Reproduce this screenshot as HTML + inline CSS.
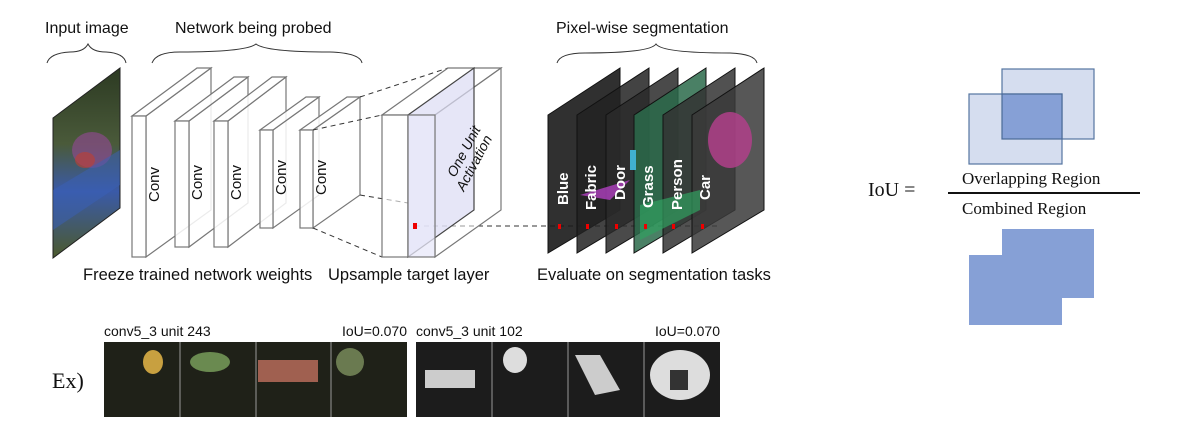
<!DOCTYPE html>
<html><head><meta charset="utf-8"><style>
html,body{margin:0;padding:0;background:#fff;}
svg{display:block;}
.s{font-family:"Liberation Sans",sans-serif;}
.r{font-family:"Liberation Serif",serif;}
</style></head><body>
<svg width="1185" height="438" viewBox="0 0 1185 438" xmlns="http://www.w3.org/2000/svg">
<defs>
<linearGradient id="img" x1="0" y1="0" x2="0" y2="1">
<stop offset="0" stop-color="#2c3a22"/><stop offset="0.4" stop-color="#4a5a3a"/><stop offset="0.65" stop-color="#3a5aa8"/><stop offset="1" stop-color="#4c5a2c"/></linearGradient>
</defs>
<g class="s" font-size="16" fill="#111">
<text x="45" y="33">Input image</text>
<text x="175" y="33">Network being probed</text>
<text x="556" y="33">Pixel-wise segmentation</text>
</g>
<g class="s" font-size="16.5" fill="#111">
<text x="83" y="280">Freeze trained network weights</text>
<text x="328" y="280">Upsample target layer</text>
<text x="537" y="280">Evaluate on segmentation tasks</text>
</g>
<g fill="none" stroke="#333" stroke-width="1">
<path d="M47 63 Q50 53 70 52 Q84 52 88 44 Q92 52 106 52 Q124 53 126 63"/>
<path d="M152 63 Q156 52 180 52 Q246 52 256 44 Q266 52 330 52 Q360 53 362 63"/>
<path d="M557 63 Q560 53 585 53 Q650 53 656 44 Q662 53 730 53 Q755 54 757 63"/>
</g>
<polygon points="53,118 120,68 120,208 53,258" fill="url(#img)" stroke="#222"/>
<ellipse cx="92" cy="150" rx="20" ry="18" fill="#8a4a8a" opacity="0.7"/>
<ellipse cx="85" cy="160" rx="10" ry="8" fill="#c04030" opacity="0.6"/>
<polygon points="53,190 120,150 120,185 53,230" fill="#3a60b8" opacity="0.5"/>
<g fill="#fff" fill-opacity="0.85" stroke="#777" stroke-width="1.2">
<g><polygon points="146,116 211,68 211,210 146,257"/><polygon points="132,116 197,68 211,68 146,116"/><rect x="132" y="116" width="14" height="141"/></g>
<g><polygon points="189,121 248,77 248,203 189,247"/><polygon points="175,121 234,77 248,77 189,121"/><rect x="175" y="121" width="14" height="126"/></g>
<g><polygon points="228,121 286,77 286,203 228,247"/><polygon points="214,121 272,77 286,77 228,121"/><rect x="214" y="121" width="14" height="126"/></g>
<g><polygon points="273,130 319,97 319,195 273,228"/><polygon points="260,130 306,97 319,97 273,130"/><rect x="260" y="130" width="13" height="98"/></g>
<g><polygon points="313,130 360,97 360,195 313,228"/><polygon points="300,130 347,97 360,97 313,130"/><rect x="300" y="130" width="13" height="98"/></g>
</g>
<g class="s" font-size="15" fill="#111">
<text transform="translate(159,202) rotate(-90)">Conv</text>
<text transform="translate(202,200) rotate(-90)">Conv</text>
<text transform="translate(241,200) rotate(-90)">Conv</text>
<text transform="translate(286,195) rotate(-90)">Conv</text>
<text transform="translate(326,195) rotate(-90)">Conv</text>
</g>
<g stroke="#333" stroke-dasharray="5,4" fill="none">
<line x1="360" y1="97" x2="448" y2="68"/>
<line x1="313" y1="130" x2="382" y2="115"/>
<line x1="360" y1="195" x2="408" y2="203"/>
<line x1="313" y1="228" x2="382" y2="257"/>
<line x1="415" y1="226" x2="720" y2="226"/>
</g>
<g stroke="#777" stroke-width="1.2">
<polygon points="382,115 448,68 501,68 435,115" fill="#fff" fill-opacity="0.6"/>
<polygon points="435,115 501,68 501,210 435,257" fill="#fff" fill-opacity="0.5"/>
<rect x="382" y="115" width="26" height="142" fill="#fff" fill-opacity="0.6"/>
<polygon points="408,115 474,68 474,210 408,257" fill="#dcdcf4" fill-opacity="0.7" stroke="#444"/>
<rect x="408" y="115" width="27" height="142" fill="#e8e8fa" fill-opacity="0.75"/>
</g>
<text class="s" font-size="14" font-style="italic" fill="#111" transform="translate(455,178) rotate(-62)">One Unit</text>
<text class="s" font-size="14" font-style="italic" fill="#111" transform="translate(464,192) rotate(-62)">Activation</text>
<rect x="413" y="223" width="4" height="6" fill="#e00"/>
<g stroke="#111" stroke-width="1">
<polygon points="548,115 620,68 620,210 548,253" fill="#1a1a1a" fill-opacity="0.9"/>
<polygon points="577,115 649,68 649,210 577,253" fill="#222" fill-opacity="0.85"/>
<polygon points="606,115 678,68 678,210 606,253" fill="#2a2a2a" fill-opacity="0.85"/>
<polygon points="634,115 706,68 706,210 634,253" fill="#2a6a4a" fill-opacity="0.85"/>
<polygon points="663,115 735,68 735,210 663,253" fill="#333" fill-opacity="0.85"/>
<polygon points="692,115 764,68 764,210 692,253" fill="#3a3a3a" fill-opacity="0.85"/>
</g>
<ellipse cx="730" cy="140" rx="22" ry="28" fill="#b0408a" opacity="0.85"/>
<polygon points="580,195 630,180 610,200" fill="#b040c0" opacity="0.8"/>
<rect x="630" y="150" width="6" height="20" fill="#40b0d0"/>
<polygon points="640,205 700,190 700,210 640,240" fill="#30a060" opacity="0.7"/>
<g class="s" font-size="15" font-weight="bold" fill="#fff">
<text transform="translate(568,205) rotate(-90)">Blue</text>
<text transform="translate(596,210) rotate(-90)">Fabric</text>
<text transform="translate(625,200) rotate(-90)">Door</text>
<text transform="translate(653,208) rotate(-90)">Grass</text>
<text transform="translate(682,210) rotate(-90)">Person</text>
<text transform="translate(710,200) rotate(-90)">Car</text>
</g>
<g fill="#e00">
<rect x="558" y="224" width="3" height="5"/><rect x="586" y="224" width="3" height="5"/><rect x="615" y="224" width="3" height="5"/><rect x="644" y="224" width="3" height="5"/><rect x="672" y="224" width="3" height="5"/><rect x="701" y="224" width="3" height="5"/>
</g>
<text class="r" x="52" y="388" font-size="22" fill="#111">Ex)</text>
<g class="s" font-size="14" fill="#111">
<text x="104" y="336">conv5_3 unit 243</text>
<text x="407" y="336" text-anchor="end">IoU=0.070</text>
<text x="416" y="336">conv5_3 unit 102</text>
<text x="720" y="336" text-anchor="end">IoU=0.070</text>
</g>
<g>
<rect x="104" y="342" width="303" height="75" fill="#1f2118"/>
<rect x="416" y="342" width="304" height="75" fill="#1c1c1c"/>
<g stroke="#999"><line x1="180" y1="342" x2="180" y2="417"/><line x1="256" y1="342" x2="256" y2="417"/><line x1="331" y1="342" x2="331" y2="417"/>
<line x1="492" y1="342" x2="492" y2="417"/><line x1="568" y1="342" x2="568" y2="417"/><line x1="644" y1="342" x2="644" y2="417"/></g>
<ellipse cx="153" cy="362" rx="10" ry="12" fill="#c8a040"/>
<ellipse cx="210" cy="362" rx="20" ry="10" fill="#6a8a50"/>
<rect x="258" y="360" width="60" height="22" fill="#a06050"/>
<ellipse cx="350" cy="362" rx="14" ry="14" fill="#6a7a50"/>
<rect x="425" y="370" width="50" height="18" fill="#ccc"/>
<ellipse cx="515" cy="360" rx="12" ry="13" fill="#ddd"/>
<polygon points="575,355 600,355 620,390 595,395" fill="#ccc"/>
<ellipse cx="680" cy="375" rx="30" ry="25" fill="#ddd"/>
<rect x="670" y="370" width="18" height="20" fill="#333"/>
</g>
<rect x="1002" y="69" width="92" height="70" fill="#d5ddef" stroke="#5575a0" stroke-width="1.2"/>
<rect x="969" y="94" width="93" height="70" fill="#d5ddef" stroke="#5575a0" stroke-width="1.2"/>
<rect x="1002" y="94" width="60" height="45" fill="#86a0d6" stroke="#4a6a98" stroke-width="1.2"/>
<text class="r" x="868" y="196" font-size="20" fill="#111">IoU =</text>
<line x1="948" y1="193" x2="1140" y2="193" stroke="#111" stroke-width="2"/>
<text class="r" x="962" y="184" font-size="17" fill="#111">Overlapping Region</text>
<text class="r" x="962" y="214" font-size="17" fill="#111">Combined Region</text>
<polygon points="1002,229 1094,229 1094,298 1062,298 1062,325 969,325 969,255 1002,255" fill="#86a0d6"/>
</svg>
</body></html>
